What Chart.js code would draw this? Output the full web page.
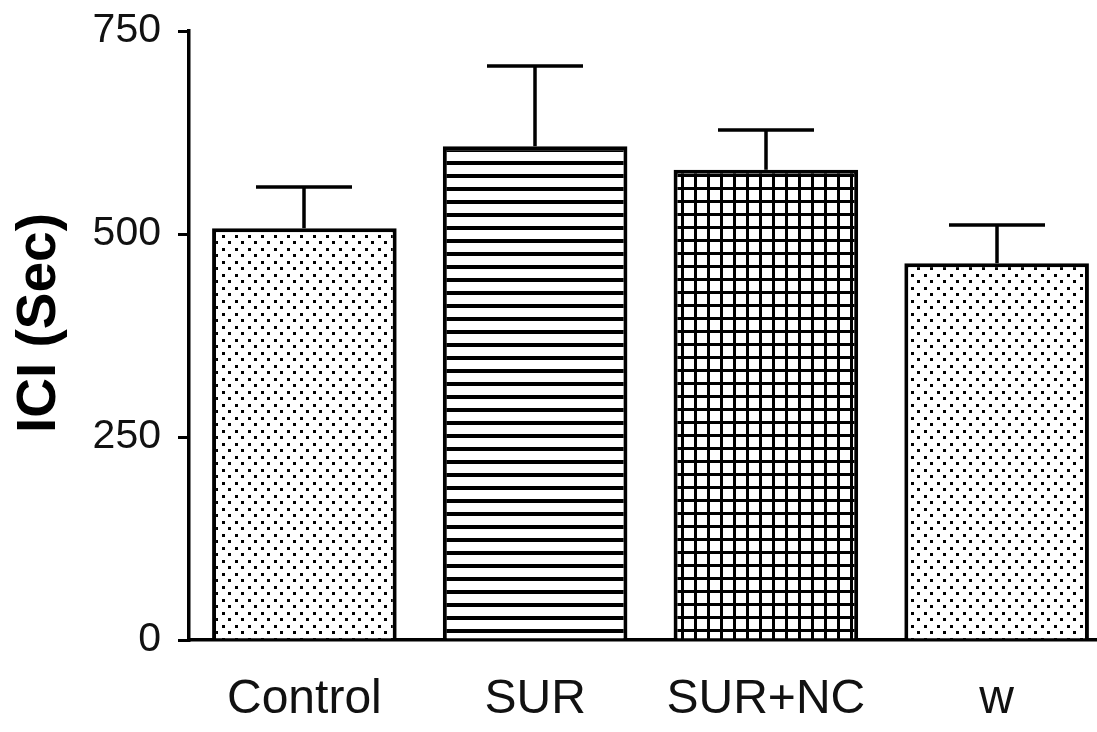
<!DOCTYPE html>
<html><head><meta charset="utf-8">
<script src="https://cdn.jsdelivr.net/npm/chart.js@4.4.1/dist/chart.umd.min.js"></script>
<style>html,body{margin:0;padding:0;background:#fff;overflow:hidden;} #wrap{width:1112px;height:732px;position:relative;}</style>
</head><body><div id="wrap"><canvas id="c" width="1112" height="732"></canvas></div>
<script>
const categories = ['Control', 'SUR', 'SUR+NC', 'w'];
const means = [507, 608, 579, 464];
const sem = [51, 99, 49, 47];
const patternTypes = ['dots', 'hlines', 'grid', 'dots'];
const yTicks = [0, 250, 500, 750];
const yTitle = 'ICI (Sec)';

function makePattern(type) {
  const c = document.createElement('canvas');
  c.width = 13; c.height = 13;
  const g = c.getContext('2d');
  g.fillStyle = '#fff'; g.fillRect(0, 0, 13, 13);
  g.fillStyle = '#000';
  if (type === 'dots') { g.fillRect(1, 1, 3, 3); g.fillRect(7, 7, 3, 3); }
  if (type === 'hlines') { g.fillRect(0, 5, 13, 4); }
  if (type === 'grid') { g.fillRect(0, 5, 13, 3); g.fillRect(5, 0, 3, 13); }
  return g.createPattern(c, 'repeat');
}

const errorBars = {
  id: 'errorBars',
  afterDatasetsDraw(chart) {
    const ctx = chart.ctx, xs = chart.scales.x, ys = chart.scales.y;
    ctx.save();
    ctx.strokeStyle = '#000'; ctx.lineWidth = 3.5;
    means.forEach((m, i) => {
      const x = Math.round(xs.getPixelForValue(i));
      const y0 = ys.getPixelForValue(m);
      const y1 = Math.round(ys.getPixelForValue(m + sem[i]));
      ctx.beginPath();
      ctx.moveTo(x, y0); ctx.lineTo(x, y1);
      ctx.moveTo(x - 48, y1); ctx.lineTo(x + 48, y1);
      ctx.stroke();
    });
    ctx.restore();
  }
};

const yTitlePlugin = {
  id: 'yTitlePlugin',
  afterDraw(chart) {
    const ctx = chart.ctx;
    ctx.save();
    ctx.translate(55, 323);
    ctx.rotate(-Math.PI / 2);
    ctx.font = 'bold 55px "Liberation Sans", Arial, sans-serif';
    ctx.fillStyle = '#000';
    ctx.textAlign = 'center';
    ctx.textBaseline = 'alphabetic';
    ctx.fillText(yTitle, 0, 0);
    ctx.restore();
  }
};

new Chart(document.getElementById('c'), {
  type: 'bar',
  data: {
    labels: categories,
    datasets: [{
      data: means,
      backgroundColor: patternTypes.map(makePattern),
      borderColor: '#000',
      borderWidth: 4,
      borderSkipped: 'bottom',
      categoryPercentage: 0.8,
      barPercentage: 1.0
    }]
  },
  options: {
    responsive: false,
    animation: false,
    layout: { padding: { top: 31, left: 0, right: 0, bottom: 0 } },
    plugins: { legend: { display: false }, tooltip: { enabled: false } },
    scales: {
      x: {
        offset: true,
        grid: { display: false, drawTicks: false },
        border: { display: true, color: '#000', width: 3.5 },
        ticks: { font: { family: '"Liberation Sans", Arial, sans-serif', size: 48 }, color: '#111', padding: 31, maxRotation: 0, autoSkip: false },
        afterFit(s) { s.height = 92; s.paddingLeft = 0; s.paddingRight = 0; }
      },
      y: {
        min: 0, max: 750,
        afterBuildTicks(s) { s.ticks = yTicks.map(v => ({ value: v })); },
        grid: { drawOnChartArea: false, color: '#000', lineWidth: 3, tickLength: 11 },
        border: { display: true, color: '#000', width: 3.5 },
        ticks: { font: { family: '"Liberation Sans", Arial, sans-serif', size: 41 }, color: '#111', padding: 17 },
        afterFit(s) { s.width = 189; s.paddingTop = 0; s.paddingBottom = 0; }
      }
    }
  },
  plugins: [errorBars, yTitlePlugin]
});
</script>
</body></html>
